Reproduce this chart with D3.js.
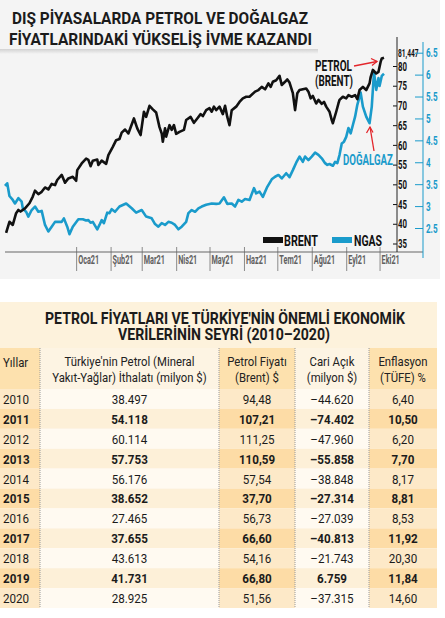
<!DOCTYPE html>
<html>
<head>
<meta charset="utf-8">
<script src="https://cdn.jsdelivr.net/npm/d3@7"></script>
<style>
body{margin:0;background:#fff;}
svg{display:block;}
text{font-family:Roboto,"Liberation Sans",sans-serif;}
</style>
</head>
<body>
<div id="chart"></div>
<script>
// Brent (USD) and NGAS (USD/MMBtu)
var brent = [
  ["2020-10-30",37.7],["2020-11-02",40.5],["2020-11-05",39.7],["2020-11-08",42.7],["2020-11-10",43.5],
  ["2020-11-12",43.1],["2020-11-16",43.9],["2020-11-20",45.2],["2020-11-23",46.9],["2020-11-25",48.4],
  ["2020-11-28",47.5],["2020-12-01",48.1],["2020-12-04",49.2],["2020-12-07",48.7],["2020-12-10",50.1],
  ["2020-12-13",49.8],["2020-12-15",51.1],["2020-12-19",52.4],["2020-12-22",50.4],["2020-12-25",51.5],
  ["2020-12-29",51.9],["2021-01-01",50.9],["2021-01-02",53.6],["2021-01-06",55.3],["2021-01-10",56.5],
  ["2021-01-12",56.2],["2021-01-14",54.6],["2021-01-16",56.0],["2021-01-20",56.3],["2021-01-21",54.9],
  ["2021-01-24",56.0],["2021-01-28",55.2],["2021-01-30",57.4],["2021-02-03",59.5],["2021-02-06",61.2],
  ["2021-02-09",61.5],["2021-02-11",63.1],["2021-02-14",63.9],["2021-02-17",62.9],["2021-02-22",66.7],
  ["2021-02-25",64.2],["2021-02-28",62.5],["2021-03-03",68.4],["2021-03-05",67.1],["2021-03-08",69.9],
  ["2021-03-11",69.0],["2021-03-14",68.2],["2021-03-17",64.5],["2021-03-19",62.9],["2021-03-20",60.8],
  ["2021-03-22",64.2],["2021-03-23",62.1],["2021-03-26",65.0],["2021-03-28",63.8],["2021-03-30",65.0],
  ["2021-04-01",62.8],["2021-04-04",63.3],["2021-04-08",63.8],["2021-04-10",66.3],["2021-04-14",67.1],
  ["2021-04-17",65.6],["2021-04-20",66.7],["2021-04-23",67.8],["2021-04-25",67.3],["2021-04-28",68.8],
  ["2021-05-01",69.3],["2021-05-03",68.4],["2021-05-05",69.7],["2021-05-07",68.8],["2021-05-10",69.7],
  ["2021-05-13",67.8],["2021-05-15",69.9],["2021-05-17",67.1],["2021-05-19",65.0],["2021-05-21",68.8],
  ["2021-05-25",69.7],["2021-05-28",70.9],["2021-05-31",71.8],["2021-06-03",72.2],["2021-06-06",72.2],
  ["2021-06-11",73.5],["2021-06-14",73.9],["2021-06-17",74.7],["2021-06-20",74.1],["2021-06-23",75.6],
  ["2021-06-25",74.7],["2021-06-27",76.0],["2021-06-30",76.4],["2021-07-03",77.5],["2021-07-05",75.2],
  ["2021-07-08",76.0],["2021-07-10",76.6],["2021-07-12",75.8],["2021-07-15",73.1],["2021-07-17",68.8],
  ["2021-07-19",73.1],["2021-07-21",73.9],["2021-07-24",74.1],["2021-07-27",74.3],["2021-07-29",73.5],
  ["2021-07-31",71.8],["2021-08-02",72.4],["2021-08-05",70.5],["2021-08-07",71.4],["2021-08-10",70.4],
  ["2021-08-12",70.9],["2021-08-14",69.7],["2021-08-17",68.4],["2021-08-19",66.3],["2021-08-20",65.5],
  ["2021-08-23",68.4],["2021-08-25",70.5],["2021-08-26",71.4],["2021-08-29",72.2],["2021-09-01",71.8],
  ["2021-09-03",72.6],["2021-09-06",72.2],["2021-09-09",72.6],["2021-09-11",71.6],["2021-09-13",73.9],
  ["2021-09-16",74.7],["2021-09-19",73.9],["2021-09-22",75.6],["2021-09-23",77.2],["2021-09-25",79.0],
  ["2021-09-28",78.1],["2021-09-30",78.5],["2021-10-02",81.1],["2021-10-03",81.9],["2021-10-05",82.1]
];
var ngas = [
  ["2020-10-29",3.46],["2020-10-31",3.52],["2020-11-02",3.23],["2020-11-05",3.14],["2020-11-07",3.06],
  ["2020-11-10",3.18],["2020-11-13",3.10],["2020-11-14",2.95],["2020-11-17",2.87],["2020-11-19",2.76],
  ["2020-11-22",2.91],["2020-11-25",2.99],["2020-11-28",2.87],["2020-12-01",2.89],["2020-12-04",2.57],
  ["2020-12-07",2.42],["2020-12-10",2.53],["2020-12-13",2.64],["2020-12-16",2.64],["2020-12-19",2.64],
  ["2020-12-21",2.72],["2020-12-24",2.53],["2020-12-26",2.36],["2020-12-29",2.53],["2021-01-03",2.70],
  ["2021-01-07",2.70],["2021-01-10",2.67],["2021-01-12",2.68],["2021-01-14",2.62],["2021-01-16",2.64],
  ["2021-01-20",2.47],["2021-01-22",2.57],["2021-01-24",2.68],["2021-01-26",2.61],["2021-01-29",2.85],
  ["2021-01-31",2.84],["2021-02-02",2.93],["2021-02-05",2.87],["2021-02-09",2.99],["2021-02-15",3.06],
  ["2021-02-20",2.95],["2021-02-24",2.85],["2021-03-01",2.91],["2021-03-05",2.76],["2021-03-10",2.72],
  ["2021-03-13",2.59],["2021-03-16",2.53],["2021-03-19",2.61],["2021-03-22",2.57],["2021-03-25",2.64],
  ["2021-03-28",2.62],["2021-03-31",2.57],["2021-04-03",2.47],["2021-04-06",2.53],["2021-04-10",2.64],
  ["2021-04-12",2.84],["2021-04-15",2.91],["2021-04-18",2.87],["2021-04-21",2.95],["2021-04-24",2.99],
  ["2021-04-28",3.03],["2021-05-03",3.06],["2021-05-07",3.05],["2021-05-10",3.06],["2021-05-14",3.20],
  ["2021-05-17",3.05],["2021-05-21",3.06],["2021-05-24",2.99],["2021-05-27",3.14],["2021-05-30",3.10],
  ["2021-06-02",3.16],["2021-06-06",3.14],["2021-06-10",3.41],["2021-06-12",3.29],["2021-06-15",3.33],
  ["2021-06-18",3.21],["2021-06-22",3.44],["2021-06-26",3.61],["2021-06-29",3.67],["2021-07-02",3.71],
  ["2021-07-05",3.63],["2021-07-09",3.75],["2021-07-12",3.66],["2021-07-15",3.82],["2021-07-18",3.99],
  ["2021-07-21",4.13],["2021-07-24",4.01],["2021-07-26",4.13],["2021-07-29",4.05],["2021-08-01",4.13],
  ["2021-08-04",4.22],["2021-08-07",4.17],["2021-08-10",4.09],["2021-08-13",3.98],["2021-08-15",3.94],
  ["2021-08-17",3.96],["2021-08-20",3.92],["2021-08-22",4.01],["2021-08-24",3.98],["2021-08-26",4.17],
  ["2021-08-28",4.43],["2021-08-30",4.47],["2021-09-01",4.58],["2021-09-03",4.78],["2021-09-05",4.66],
  ["2021-09-07",4.85],["2021-09-09",5.04],["2021-09-11",5.31],["2021-09-14",5.59],["2021-09-16",5.27],
  ["2021-09-19",5.04],["2021-09-22",4.89],["2021-09-24",5.27],["2021-09-26",6.06],["2021-09-28",5.65],
  ["2021-09-30",5.92],["2021-10-01",5.74],["2021-10-03",5.97],["2021-10-05",6.02]
];
var monthTicks = ["2021-01-01","2021-02-01","2021-03-01","2021-04-01","2021-05-01","2021-06-01",
                  "2021-07-01","2021-08-01","2021-09-01","2021-10-01"];
var monthLabels = ["Oca21","Şub21","Mar21","Nis21","May21","Haz21","Tem21","Ağu21","Eyl21","Eki21"];
var brentTicks = [35,40,45,50,55,60,65,70,75,80];
var ngasTicks = [2.5,3,3.5,4,4.5,5,5.5,6,6.5];
var brentLast = "81,447";

// table
var years = [2010,2011,2012,2013,2014,2015,2016,2017,2018,2019,2020];
var ithalat = [38497,54118,60114,57753,56176,38652,27465,37655,43613,41731,28925];
var brentYillik = [94.48,107.21,111.25,110.59,57.54,37.70,56.73,66.60,54.16,66.80,51.56];
var cariAcik = [-44620,-74402,-47960,-55858,-38848,-27314,-27039,-40813,-21743,6759,-37315];
var enflasyon = [6.40,10.50,6.20,7.70,8.17,8.81,8.53,11.92,20.30,11.84,14.60];
var headers = [
  ["Yıllar"],
  ["Türkiye'nin Petrol (Mineral","Yakıt-Yağlar) İthalatı  (milyon $)"],
  ["Petrol Fiyatı","(Brent) $"],
  ["Cari Açık","(milyon $)"],
  ["Enflasyon","(TÜFE) %"]
];

var W = 445, H = 618;
var blue = "#1a9bcb", red = "#e3262b";
var parse = d3.timeParse("%Y-%m-%d");

// narrow the installed fonts down to the condensed look of the original
function squeeze(sel, k) {
  sel.each(function() {
    var w = this.getComputedTextLength();
    d3.select(this).attr("textLength", w * k).attr("lengthAdjust", "spacingAndGlyphs");
  });
}

var svg = d3.select("#chart").append("svg")
    .attr("width", W)
    .attr("height", H);

// panel background
svg.append("rect").attr("x",0).attr("y",0).attr("width",440).attr("height",279).attr("fill","#f4f4f4");

var defs = svg.append("defs");
var grad = defs.append("linearGradient").attr("id","sh").attr("x1",0).attr("y1",0).attr("x2",0).attr("y2",1);
grad.append("stop").attr("offset",0).attr("stop-color","#d2d2d2");
grad.append("stop").attr("offset",1).attr("stop-color","#f4f4f4");
svg.append("rect").attr("x",0).attr("y",49).attr("width",318).attr("height",5).attr("fill","url(#sh)");

// title
var title = svg.append("g").attr("font-weight","bold").attr("fill","#1b1b1b").attr("font-size",17);
title.append("text").attr("x",12).attr("y",24).attr("textLength",296).attr("lengthAdjust","spacingAndGlyphs")
    .text("DIŞ PİYASALARDA PETROL VE DOĞALGAZ");
title.append("text").attr("x",9).attr("y",45).attr("textLength",303).attr("lengthAdjust","spacingAndGlyphs")
    .text("FİYATLARINDAKİ YÜKSELİŞ İVME KAZANDI");

// scales
var x = d3.scaleTime().domain([parse("2020-10-29"), parse("2021-10-05")]).range([5, 384]);
var yB = d3.scaleLinear().domain([35, 80]).range([243.5, 66]);
var yN = d3.scaleLinear().domain([2.5, 6.5]).range([228, 52.7]);

// x axis
var xAxis = svg.append("g").attr("transform","translate(0,252)")
    .call(d3.axisBottom(x)
        .tickValues(monthTicks.map(parse))
        .tickSize(19)
        .tickFormat(function(d,i){ return monthLabels[i]; }));
xAxis.select(".domain").remove();
xAxis.selectAll(".tick line").attr("y1",-5).attr("stroke","#8a8a8a");
xAxis.selectAll(".tick text")
    .attr("text-anchor","start").attr("x",1.5).attr("y",12).attr("dy",0)
    .attr("font-size",12.5).attr("font-weight","bold").attr("fill","#606060")
    .attr("font-family",null)
    .call(squeeze, 0.58);
svg.append("line").attr("x1",5).attr("x2",423).attr("y1",252).attr("y2",252).attr("stroke","#666");

// lines
var lineB = d3.line().x(function(d){return x(parse(d[0]));}).y(function(d){return yB(d[1]);});
var lineN = d3.line().x(function(d){return x(parse(d[0]));}).y(function(d){return yN(d[1]);});

svg.append("path").datum(ngas).attr("d",lineN).attr("fill","none").attr("stroke",blue)
    .attr("stroke-width",2.6).attr("stroke-linejoin","round");
svg.append("path").datum(brent).attr("d",lineB).attr("fill","none").attr("stroke","#111")
    .attr("stroke-width",2.6).attr("stroke-linejoin","round");

// brent axis
var bAxis = svg.append("g").attr("transform","translate(397,0)")
    .call(d3.axisRight(yB).tickValues(brentTicks).tickSize(4).tickSizeOuter(0).tickPadding(1));
bAxis.select(".domain").remove();
bAxis.selectAll(".tick line").attr("x1",-4).attr("x2",0).attr("stroke","#111");
bAxis.selectAll(".tick text").attr("x",1).attr("font-size",13).attr("font-weight","bold")
    .attr("fill","#111").attr("font-family",null)
    .call(squeeze, 0.6);
svg.append("line").attr("x1",397).attr("x2",397).attr("y1",37).attr("y2",252).attr("stroke","#222");
svg.append("text").attr("x",398).attr("y",57).attr("font-size",11).attr("font-weight","bold")
    .attr("fill","#111").text(brentLast)
    .call(squeeze, 0.6);

// ngas axis
var nAxis = svg.append("g").attr("transform","translate(423,0)")
    .call(d3.axisRight(yN).tickValues(ngasTicks).tickSize(8).tickSizeOuter(0).tickPadding(3)
        .tickFormat(d3.format("")));
nAxis.select(".domain").remove();
nAxis.selectAll(".tick line").attr("x1",-8).attr("x2",0).attr("stroke",blue);
nAxis.selectAll(".tick text").attr("x",3).attr("font-size",13).attr("font-weight","bold")
    .attr("fill",blue).attr("font-family",null)
    .call(squeeze, 0.62);
svg.append("line").attr("x1",423).attr("x2",423).attr("y1",42).attr("y2",258).attr("stroke",blue);

// legend
var leg = svg.append("g").attr("font-weight","bold").attr("font-size",15);
leg.append("rect").attr("x",263).attr("y",237).attr("width",20).attr("height",6).attr("fill","#111");
leg.append("text").attr("x",284).attr("y",246).attr("fill","#111").attr("textLength",34)
    .attr("lengthAdjust","spacingAndGlyphs").text("BRENT");
leg.append("rect").attr("x",332).attr("y",237).attr("width",20).attr("height",6).attr("fill",blue);
leg.append("text").attr("x",354).attr("y",246).attr("fill","#111").attr("textLength",28)
    .attr("lengthAdjust","spacingAndGlyphs").text("NGAS");

// annotations
var ann = svg.append("g").attr("font-weight","bold").attr("font-size",15);
ann.append("text").attr("x",315).attr("y",71).attr("fill","#111").attr("textLength",37)
    .attr("lengthAdjust","spacingAndGlyphs").text("PETROL");
ann.append("text").attr("x",315).attr("y",86).attr("fill","#111").attr("textLength",38)
    .attr("lengthAdjust","spacingAndGlyphs").text("(BRENT)");
ann.append("text").attr("x",343).attr("y",165).attr("fill",blue).attr("textLength",50)
    .attr("lengthAdjust","spacingAndGlyphs").text("DOĞALGAZ");
var arrows = svg.append("g").attr("stroke",red).attr("stroke-width",1.3).attr("fill","none");
arrows.append("line").attr("x1",354).attr("y1",66).attr("x2",377).attr("y2",61.5);
arrows.append("polyline").attr("points","371,58.5 377,61.5 372,65.5");
arrows.append("line").attr("x1",374).attr("y1",151).attr("x2",370).attr("y2",127);
arrows.append("polyline").attr("points","366.5,133 370,127 373,132.5");

// ---------------- table ----------------
var tf = d3.formatLocale({decimal:",", thousands:".", grouping:[3], currency:["","$"], minus:"–"});
var fInt = tf.format(",d"), f2 = tf.format(".2f");

var colX = [0, 40, 219, 295, 369, 437];
var darkCol = [true, false, true, false, true];
var rowY = d3.scaleBand().domain(years).range([389, 608]);

var tab = svg.append("g");
tab.append("rect").attr("x",0).attr("y",302).attr("width",437).attr("height",46).attr("fill","#fdf2dc");
var tt = tab.append("g").attr("font-weight","bold").attr("font-size",16.5).attr("fill","#1b1b1b").attr("text-anchor","middle");
tt.append("text").attr("x",225).attr("y",324).attr("textLength",360).attr("lengthAdjust","spacingAndGlyphs")
    .text("PETROL FİYATLARI VE TÜRKİYE'NİN ÖNEMLİ EKONOMİK");
tt.append("text").attr("x",224).attr("y",340).attr("textLength",212).attr("lengthAdjust","spacingAndGlyphs")
    .text("VERİLERİNİN SEYRİ (2010–2020)");

// header cells
headers.forEach(function(h, c){
  tab.append("rect").attr("x",colX[c]).attr("y",348).attr("width",colX[c+1]-colX[c]).attr("height",41)
     .attr("fill", darkCol[c] ? "#fde1ae" : "#fdf4e3");
  var tx = c === 0 ? 3 : (colX[c] + colX[c+1]) / 2;
  h.forEach(function(s, k){
    tab.append("text").attr("x",tx).attr("y", h.length === 1 ? 367 : 366 + k*16)
       .attr("text-anchor", c === 0 ? "start" : "middle")
       .attr("font-size",13.5).attr("fill","#222").text(s)
       .call(squeeze, 0.84);
  });
});

// body
var cols = [
  function(i){ return String(years[i]); },
  function(i){ return fInt(ithalat[i]); },
  function(i){ return f2(brentYillik[i]); },
  function(i){ return fInt(cariAcik[i]); },
  function(i){ return f2(enflasyon[i]); }
];
var row = tab.selectAll(".row").data(years).enter().append("g").attr("class","row")
    .attr("transform", function(d){ return "translate(0," + rowY(d) + ")"; });
cols.forEach(function(fn, c){
  row.append("rect").attr("x",colX[c]).attr("y",0).attr("width",colX[c+1]-colX[c]).attr("height",rowY.bandwidth())
     .attr("fill", function(d,i){
        var odd = i % 2 === 1;
        if (darkCol[c]) return odd ? "#fddca6" : "#fde9c8";
        return odd ? "#fdf0d8" : "#fffaf1";
     });
  row.append("text")
     .attr("x", c === 0 ? 3 : (colX[c] + colX[c+1]) / 2)
     .attr("y", rowY.bandwidth()/2 + 5)
     .attr("text-anchor", c === 0 ? "start" : "middle")
     .attr("font-size",13.5)
     .attr("font-weight", function(d,i){ return i % 2 === 1 ? "bold" : "normal"; })
     .attr("fill","#1b1b1b")
     .text(function(d,i){ return fn(i); })
     .call(squeeze, 0.86);
});

// dotted separators
[40, 219, 295, 369].forEach(function(sx){
  tab.append("line").attr("x1",sx).attr("x2",sx).attr("y1",348).attr("y2",608)
     .attr("stroke","#9a9a9a").attr("stroke-width",1).attr("stroke-dasharray","1,1");
});
</script>
</body>
</html>
